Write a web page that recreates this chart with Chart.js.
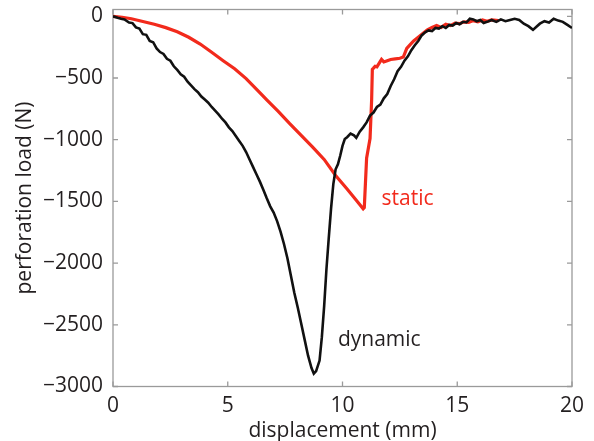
<!DOCTYPE html>
<html>
<head>
<meta charset="utf-8">
<script src="https://cdn.jsdelivr.net/npm/chart.js@4.4.1/dist/chart.umd.min.js"></script>
<style>
  html, body { margin: 0; padding: 0; background: #fff; }
  #wrap { width: 594px; height: 441px; }
</style>
</head>
<body>
<div id="wrap"><canvas id="perf_chart" width="594" height="441"></canvas></div>
<script>
// displacement (mm) / perforation load (N)
var dynamicX = [0, 0.2, 0.35, 0.5, 0.7, 0.85, 1.0, 1.15, 1.3, 1.45, 1.6, 1.75, 1.9, 2.05, 2.2, 2.35, 2.5, 2.65, 2.8, 2.95,
                3.1, 3.25, 3.4, 3.55, 3.7, 3.85, 4.0, 4.15, 4.3, 4.45, 4.6, 4.75, 4.9, 5.05, 5.2, 5.35, 5.5, 5.65, 5.8, 5.95,
                6.1, 6.25, 6.4, 6.55, 6.7, 6.85, 7.0, 7.15, 7.3, 7.45, 7.6, 7.75, 7.9, 8.05, 8.2, 8.35, 8.5, 8.65, 8.75, 8.85,
                9.0, 9.1, 9.2, 9.3, 9.4, 9.5, 9.6, 9.7, 9.8, 9.9, 10.0, 10.1, 10.2, 10.35, 10.5, 10.6, 10.75, 10.9, 11.05, 11.2,
                11.35, 11.5, 11.65, 11.8, 11.95, 12.1, 12.25, 12.4, 12.55, 12.7, 12.85, 13.0, 13.15, 13.3, 13.45, 13.6, 13.75, 13.9, 14.05, 14.2,
                14.35, 14.5, 14.65, 14.8, 14.95, 15.1, 15.25, 15.4, 15.55, 15.7, 15.85, 16.0, 16.15, 16.3, 16.5, 16.7, 16.9, 17.1, 17.3, 17.5,
                17.7, 17.9, 18.1, 18.3, 18.45, 18.6, 18.8, 19.0, 19.2, 19.4, 19.6, 19.8, 20.0];
var dynamicY = [0, -12, -20, -25, -50, -55, -90, -100, -145, -150, -200, -210, -260, -290, -305, -345, -360, -405, -435, -470,
                -490, -530, -560, -590, -615, -650, -675, -700, -735, -765, -795, -830, -860, -900, -930, -970, -1010, -1050, -1100, -1160,
                -1220, -1280, -1340, -1405, -1475, -1540, -1590, -1660, -1745, -1845, -1960, -2100, -2240, -2360, -2490, -2620, -2750, -2850, -2895, -2875,
                -2790, -2600, -2350, -2050, -1800, -1560, -1360, -1240, -1200, -1130, -1050, -995, -980, -950, -965, -985, -935, -900, -860, -805,
                -780, -735, -715, -665, -630, -565, -510, -445, -410, -360, -325, -275, -235, -200, -155, -130, -115, -120, -95, -100,
                -80, -95, -70, -75, -55, -65, -45, -50, -20, -25, -40, -30, -55, -45, -30, -45, -25, -40, -30, -20,
                -30, -60, -80, -110, -85, -60, -40, -50, -20, -35, -45, -70, -95];

var staticX = [0, 0.4, 0.8, 1.3, 1.8, 2.3, 2.8, 3.3, 3.8, 4.3, 4.8, 5.3, 5.8, 6.3, 6.7, 7.2, 7.7, 8.2, 8.7, 9.2,
               9.7, 10.2, 10.6, 10.9, 10.95, 11.05, 11.2, 11.27, 11.3, 11.35, 11.42, 11.5, 11.6, 11.7, 11.8, 11.95, 12.1, 12.3, 12.5, 12.65,
               12.8, 12.95, 13.1, 13.3, 13.5, 13.7, 13.9, 14.1, 14.3, 14.5, 14.7, 14.9, 15.1, 15.3, 15.5, 15.7, 15.9, 16.1, 16.3, 16.5, 16.8];
var staticY = [0, -8, -20, -42, -65, -92, -125, -170, -225, -292, -360, -425, -505, -600, -677, -770, -870, -965, -1060, -1160,
               -1290, -1400, -1490, -1560, -1550, -1150, -990, -675, -430, -420, -405, -410, -380, -350, -370, -360, -350, -345, -340, -330,
               -260, -230, -200, -170, -140, -110, -90, -75, -90, -65, -75, -55, -60, -45, -50, -35, -45, -30, -40, -30, -35];

var xTicks = [0, 5, 10, 15, 20];
var yTicks = [-3000, -2500, -2000, -1500, -1000, -500, 0];
var curveNames = ['dynamic', 'static'];
var curveColors = ['#111111', '#f22a1c'];

var FONT = "'Open Sans', 'DejaVu Sans', sans-serif";
var INK = '#231f20';
var BOX = '#9a9a9a';

function pairs(xs, ys) {
    return xs.map(function (x, i) { return { x: x, y: ys[i] }; });
}
function minus(v) {
    return v < 0 ? '\u2212' + Math.abs(v) : String(v);
}

// matlab style box with inward ticks
const framePlugin = {
    id: 'frame',
    beforeDatasetsDraw(chart) {
        const a = chart.chartArea, ctx = chart.ctx;
        const xs = chart.scales.x, ys = chart.scales.y;
        ctx.save();
        ctx.strokeStyle = BOX;
        ctx.lineWidth = 1.3;
        ctx.strokeRect(a.left, a.top, a.right - a.left, a.bottom - a.top);
        ctx.beginPath();
        xTicks.forEach(function (t) {
            const px = xs.getPixelForValue(t);
            ctx.moveTo(px, a.bottom); ctx.lineTo(px, a.bottom - 5);
            ctx.moveTo(px, a.top); ctx.lineTo(px, a.top + 5);
        });
        yTicks.forEach(function (t) {
            const py = ys.getPixelForValue(t);
            ctx.moveTo(a.left, py); ctx.lineTo(a.left + 5, py);
            ctx.moveTo(a.right, py); ctx.lineTo(a.right - 5, py);
        });
        ctx.stroke();
        ctx.restore();
    },
    afterDatasetsDraw(chart) {
        const ctx = chart.ctx, xs = chart.scales.x, ys = chart.scales.y;
        ctx.save();
        ctx.font = '21px ' + FONT;
        ctx.textBaseline = 'middle';
        ctx.fillStyle = '#f22a1c';
        ctx.fillText('static', xs.getPixelForValue(11.7), ys.getPixelForValue(-1480));
        ctx.fillStyle = INK;
        ctx.fillText('dynamic', xs.getPixelForValue(9.8), ys.getPixelForValue(-2625));
        ctx.restore();
    }
};

const data = {
    datasets: [
        {
            label: curveNames[0],
            data: pairs(dynamicX, dynamicY),
            borderColor: curveColors[0],
            borderWidth: 2.6,
            showLine: true,
            pointRadius: 0,
            tension: 0
        },
        {
            label: curveNames[1],
            data: pairs(staticX, staticY),
            borderColor: curveColors[1],
            borderWidth: 3.2,
            showLine: true,
            pointRadius: 0,
            tension: 0
        }
    ]
};

const config = {
    type: 'scatter',
    data: data,
    plugins: [framePlugin],
    options: {
        responsive: false,
        animation: false,
        layout: { padding: { left: 12, right: 22, top: 9.5, bottom: 0 } },
        plugins: { legend: { display: false }, tooltip: { enabled: false } },
        scales: {
            x: {
                type: 'linear',
                min: 0, max: 20,
                afterBuildTicks: function (s) { s.ticks = xTicks.map(function (v) { return { value: v }; }); },
                afterFit: function (s) { s.height = 54.5; s.paddingLeft = 0; s.paddingRight = 0; },
                grid: { display: false, drawTicks: false },
                border: { display: false },
                ticks: { padding: 7, color: INK, font: { family: FONT, size: 21 } },
                title: { display: true, text: 'displacement (mm)', color: INK, padding: { top: -3, bottom: -3 }, font: { family: FONT, size: 21 } }
            },
            y: {
                type: 'linear',
                min: -3000, max: 55,
                afterBuildTicks: function (s) { s.ticks = yTicks.map(function (v) { return { value: v }; }); },
                afterFit: function (s) { s.width = 101; s.paddingTop = 0; s.paddingBottom = 0; },
                grid: { display: false, drawTicks: false },
                border: { display: false },
                ticks: { padding: 10, color: INK, font: { family: FONT, size: 21 }, callback: function (v) { return minus(v); } },
                title: { display: true, text: 'perforation load (N)', color: INK, padding: { top: 0, bottom: 0 }, font: { family: FONT, size: 21 } }
            }
        }
    }
};

var myChart = new Chart(document.getElementById('perf_chart'), config);
</script>
</body>
</html>
